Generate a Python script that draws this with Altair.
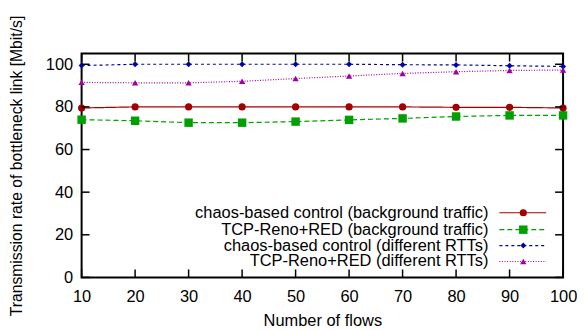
import altair as alt
import pandas as pd

flows = [10, 20, 30, 40, 50, 60, 70, 80, 90, 100]
chaos_bg = [79.5, 80.0, 80.0, 80.0, 80.0, 80.0, 80.0, 79.8, 79.8, 79.5]
reno_bg = [74.0, 73.5, 72.6, 72.6, 73.1, 73.9, 74.6, 75.5, 76.0, 76.0]
chaos_rtt = [99.4, 100.0, 100.0, 100.0, 100.0, 100.0, 99.8, 99.7, 99.3, 99.0]
reno_rtt = [91.5, 91.3, 91.3, 92.0, 93.3, 94.5, 95.7, 96.5, 97.1, 97.3]

names = [
    "chaos-based control (background traffic)",
    "TCP-Reno+RED (background traffic)",
    "chaos-based control (different RTTs)",
    "TCP-Reno+RED (different RTTs)",
]
series = [chaos_bg, reno_bg, chaos_rtt, reno_rtt]
colors = ["#a00000", "#00a000", "#0000b0", "#a000a0"]
dashes = [[1, 0], [5, 3], [3, 3], [1, 1.6]]
shapes = ["circle", "square", "diamond", "triangle-up"]
sizes = [52, 72, 36, 40]

x_ticks = [10, 20, 30, 40, 50, 60, 70, 80, 90, 100]
y_ticks = [0, 20, 40, 60, 80, 100]

W, H = 484, 225
FONT = "Liberation Sans"
FS = 16.5

rows = []
for n, vals in zip(names, series):
    for f, v in zip(flows, vals):
        rows.append({"flows": f, "rate": v, "series": n})
df = pd.DataFrame(rows)

xs = alt.Scale(domain=[10, 100], nice=False, zero=False)
ys = alt.Scale(domain=[0, 105], nice=False)

x_axis = alt.X("flows:Q", scale=xs, axis=alt.Axis(
    values=x_ticks, labelPadding=11, title="Number of flows",
    titleBaseline="alphabetic", titleY=48, labelFlush=False, labelOverlap=False))
y_axis = alt.Y("rate:Q", scale=ys, axis=alt.Axis(
    values=y_ticks, labelPadding=9,
    title="Transmission rate of bottleneck link [Mbit/s]",
    titleX=-65, titleBaseline="middle", titleFontSize=15.8,
    labelFlush=False, labelOverlap=False))
x_plain = alt.X("flows:Q", scale=xs)
y_plain = alt.Y("rate:Q", scale=ys)

layers = []
first = True
for n, c, d, s, sz in zip(names, colors, dashes, shapes, sizes):
    sub = df[df["series"] == n]
    base = alt.Chart(sub)
    if first:
        layers.append(base.mark_line(color=c, strokeWidth=1.2, strokeDash=d).encode(x=x_axis, y=y_axis))
        first = False
    else:
        layers.append(base.mark_line(color=c, strokeWidth=1.2, strokeDash=d).encode(x=x_plain, y=y_plain))
    layers.append(base.mark_point(shape=s, filled=True, opacity=1, color=c, size=sz).encode(
        x=x_plain, y=y_plain))

# inward ticks on all four sides
xt = pd.DataFrame({"flows": x_ticks})
yt = pd.DataFrame({"rate": y_ticks})
TL = 8
tick_style = dict(color="black", strokeWidth=1.5)
layers.append(alt.Chart(xt).mark_rule(**tick_style).encode(
    x=x_plain, y=alt.value(H), y2=alt.value(H - TL)))
layers.append(alt.Chart(xt).mark_rule(**tick_style).encode(
    x=x_plain, y=alt.value(0), y2=alt.value(TL)))
layers.append(alt.Chart(yt).mark_rule(**tick_style).encode(
    y=y_plain, x=alt.value(0), x2=alt.value(TL)))
layers.append(alt.Chart(yt).mark_rule(**tick_style).encode(
    y=y_plain, x=alt.value(W), x2=alt.value(W - TL)))

# legend (labels left of samples)
leg_y = [160, 177, 193, 209]
one = pd.DataFrame({"k": [0]})
for n, c, d, s, sz, ly in zip(names, colors, dashes, shapes, sizes, leg_y):
    layers.append(alt.Chart(one).mark_text(
        text=n, align="right", baseline="middle", font=FONT, fontSize=FS, color="black").encode(
        x=alt.value(409), y=alt.value(ly)))
    layers.append(alt.Chart(one).mark_rule(color=c, strokeWidth=1.2, strokeDash=d).encode(
        x=alt.value(420), x2=alt.value(467), y=alt.value(ly)))
    layers.append(alt.Chart(one).mark_point(shape=s, filled=True, opacity=1, color=c, size=sz).encode(
        x=alt.value(444), y=alt.value(ly)))

chart = alt.layer(*layers).properties(
    width=W, height=H,
    autosize=alt.AutoSizeParams(type="none"),
    padding={"left": 74, "top": 45, "right": 14, "bottom": 52},
).configure_view(stroke="black", strokeWidth=2).configure_axis(
    ticks=False, tickSize=0, domain=False, grid=False,
    labelFont=FONT, titleFont=FONT, labelFontSize=FS, titleFontSize=FS,
    titleFontWeight="normal", labelColor="black", titleColor="black",
)

chart.save("out.html", embed_options={"renderer": "svg", "actions": False})
